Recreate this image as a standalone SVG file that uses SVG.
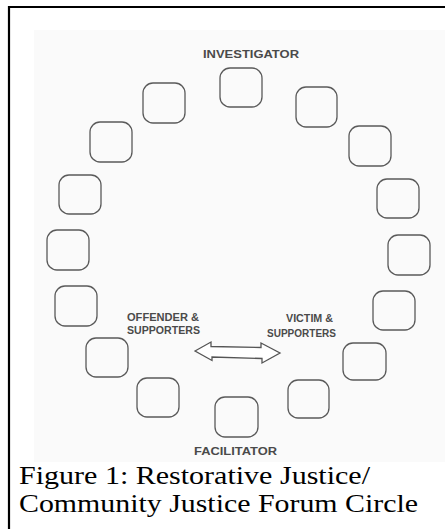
<svg xmlns="http://www.w3.org/2000/svg" width="445" height="529" viewBox="0 0 445 529">
<style>
.seat{fill:none;stroke:#5a5a5a;stroke-width:1.3}
.lbl{font-family:"Liberation Sans","DejaVu Sans",sans-serif;font-weight:bold;font-size:10.5px;fill:#4a4a4a}
.cap{font-family:"Liberation Serif","Times New Roman",serif;font-size:25px;fill:#000}
</style>
<rect x="0" y="0" width="445" height="529" fill="#fff"/>
<rect x="34" y="30" width="411" height="432" fill="#fafafa"/>
<path d="M9 529 V7 H445" fill="none" stroke="#000" stroke-width="2.2"/>
<g id="seats">
<g id="investigator-seat"><rect class="seat" x="220" y="68" width="42" height="39" rx="10"/></g>
<g id="seat-ul1"><rect class="seat" x="143" y="83" width="42" height="40" rx="10"/></g>
<g id="seat-ul2"><rect class="seat" x="90" y="122" width="42" height="40" rx="10"/></g>
<g id="seat-l1"><rect class="seat" x="59" y="175" width="42" height="39" rx="10"/></g>
<g id="seat-l2"><rect class="seat" x="47" y="230" width="42" height="40" rx="10"/></g>
<g id="seat-l3"><rect class="seat" x="55" y="286" width="42" height="40" rx="10"/></g>
<g id="seat-l4"><rect class="seat" x="86" y="338" width="42" height="39" rx="10"/></g>
<g id="seat-l5"><rect class="seat" x="137" y="378" width="42" height="39" rx="10"/></g>
<g id="facilitator-seat"><rect class="seat" x="215" y="397" width="43" height="40" rx="10"/></g>
<g id="seat-r5"><rect class="seat" x="288" y="380" width="41" height="38" rx="10"/></g>
<g id="seat-r4"><rect class="seat" x="343" y="343" width="43" height="37" rx="10"/></g>
<g id="seat-r3"><rect class="seat" x="373" y="291" width="42" height="39" rx="10"/></g>
<g id="seat-r2"><rect class="seat" x="388" y="235" width="42" height="40" rx="10"/></g>
<g id="seat-r1"><rect class="seat" x="377" y="179" width="42" height="39" rx="10"/></g>
<g id="seat-ur2"><rect class="seat" x="349" y="126" width="42" height="40" rx="10"/></g>
<g id="seat-ur1"><rect class="seat" x="296" y="87" width="41" height="40" rx="10"/></g>
</g>
<g id="labels">
<text class="lbl" x="203" y="58" textLength="96" lengthAdjust="spacingAndGlyphs">INVESTIGATOR</text>
<text class="lbl" x="127" y="321" textLength="72" lengthAdjust="spacingAndGlyphs">OFFENDER &amp;</text>
<text class="lbl" x="127" y="334" textLength="73" lengthAdjust="spacingAndGlyphs">SUPPORTERS</text>
<text class="lbl" x="286" y="322" textLength="47" lengthAdjust="spacingAndGlyphs">VICTIM &amp;</text>
<text class="lbl" x="267" y="337" textLength="69" lengthAdjust="spacingAndGlyphs">SUPPORTERS</text>
<text class="lbl" x="194" y="455" textLength="83" lengthAdjust="spacingAndGlyphs">FACILITATOR</text>
</g>
<g id="connectors">
<polygon points="195,351 211,342 211,346.5 261,347.5 261,343 280,353 262,363 262,358.5 212,357 212,360.5" fill="#fff" stroke="#555" stroke-width="1.3" stroke-linejoin="miter"/>
</g>
<g id="caption">
<text class="cap" x="19" y="484" textLength="351" lengthAdjust="spacingAndGlyphs">Figure 1: Restorative Justice/</text>
<text class="cap" x="19" y="512" textLength="399" lengthAdjust="spacingAndGlyphs">Community Justice Forum Circle</text>
</g>
</svg>
